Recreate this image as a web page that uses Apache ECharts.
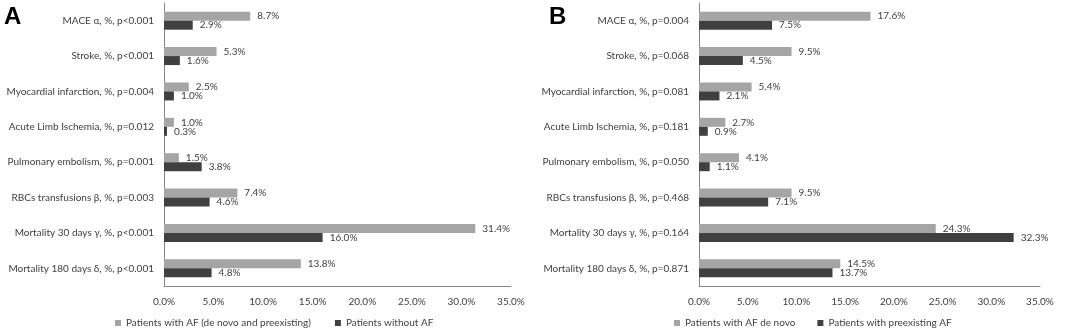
<!DOCTYPE html>
<html>
<head>
<meta charset="utf-8">
<script src="https://cdn.jsdelivr.net/npm/echarts@6/dist/echarts.min.js"></script>
<style>
  html, body { margin: 0; padding: 0; background: #fff; }
  #main { width: 1066px; height: 330px; }
</style>
</head>
<body>
<div id="main"></div>
<script>
// 数据
var catsA = ['MACE α, %, p<0.001', 'Stroke, %, p<0.001', 'Myocardial infarction, %, p=0.004',
  'Acute Limb Ischemia, %, p=0.012', 'Pulmonary embolism, %, p=0.001', 'RBCs transfusions β, %, p=0.003',
  'Mortality 30 days γ, %, p<0.001', 'Mortality 180 days δ, %, p<0.001'];
var catsB = ['MACE α, %, p=0.004', 'Stroke, %, p=0.068', 'Myocardial infarction, %, p=0.081',
  'Acute Limb Ischemia, %, p=0.181', 'Pulmonary embolism, %, p=0.050', 'RBCs transfusions β, %, p=0.468',
  'Mortality 30 days γ, %, p=0.164', 'Mortality 180 days δ, %, p=0.871'];
var afAll = [8.7, 5.3, 2.5, 1.0, 1.5, 7.4, 31.4, 13.8];
var noAf = [2.9, 1.6, 1.0, 0.3, 3.8, 4.6, 16.0, 4.8];
var afDeNovo = [17.6, 9.5, 5.4, 2.7, 4.1, 9.5, 24.3, 14.5];
var afPre = [7.5, 4.5, 2.1, 0.9, 1.1, 7.1, 32.3, 13.7];
var nameA1 = 'Patients with AF (de novo and preexisting)';
var nameA2 = 'Patients without AF';
var nameB1 = 'Patients with AF de novo';
var nameB2 = 'Patients with preexisting AF';

var FONT = 'Lato';
var FS = 10;
var TXT = '#404040';
var LIGHT = '#a5a5a5';
var DARK = '#404040';

const myChart = echarts.init(document.getElementById('main'));

function xAxisFor(idx) {
  return {
    type: 'value', gridIndex: idx, min: 0, max: 35, interval: 5,
    axisLine: { show: true, lineStyle: { color: '#868686', width: 1 } },
    axisTick: { show: false },
    splitLine: { show: false },
    axisLabel: {
      color: TXT, fontFamily: FONT, fontSize: FS, margin: 11,
      formatter: function (v) { return v.toFixed(1) + '%'; }
    }
  };
}
function yAxisFor(idx, cats) {
  return {
    type: 'category', gridIndex: idx, data: cats, inverse: true,
    axisLine: { show: true, lineStyle: { color: '#868686', width: 1 } },
    axisTick: { show: false },
    axisLabel: { color: TXT, fontFamily: FONT, fontSize: FS, margin: 10 }
  };
}
function barSeries(name, data, color, idx) {
  return {
    name: name, type: 'bar', xAxisIndex: idx, yAxisIndex: idx,
    data: data, barWidth: 9, barGap: '0%',
    itemStyle: { color: color },
    label: {
      show: true, position: 'right', distance: 7,
      color: TXT, fontFamily: FONT, fontSize: FS,
      formatter: function (p) { return p.value.toFixed(1) + '%'; }
    }
  };
}

var option = {
  animation: false,
  title: [
    { text: 'A', left: -1, top: 0, textStyle: { fontSize: 24, fontWeight: 'bold', color: '#000', fontFamily: 'Liberation Sans' } },
    { text: 'B', left: 544, top: 0, textStyle: { fontSize: 24, fontWeight: 'bold', color: '#000', fontFamily: 'Liberation Sans' } }
  ],
  grid: [
    { left: 164, top: 3, width: 347, height: 283, containLabel: false, outerBoundsMode: 'none' },
    { left: 699, top: 3, width: 341, height: 283, containLabel: false, outerBoundsMode: 'none' }
  ],
  legend: [
    {
      data: [nameA1, nameA2], left: 115, top: 318, padding: 0,
      icon: 'rect', itemWidth: 6, itemHeight: 6, itemGap: 24,
      textStyle: { color: TXT, fontFamily: FONT, fontSize: FS }
    },
    {
      data: [nameB1, nameB2], left: 674, top: 318, padding: 0,
      icon: 'rect', itemWidth: 6, itemHeight: 6, itemGap: 22,
      textStyle: { color: TXT, fontFamily: FONT, fontSize: FS }
    }
  ],
  xAxis: [xAxisFor(0), xAxisFor(1)],
  yAxis: [yAxisFor(0, catsA), yAxisFor(1, catsB)],
  series: [
    barSeries(nameA1, afAll, LIGHT, 0),
    barSeries(nameA2, noAf, DARK, 0),
    barSeries(nameB1, afDeNovo, LIGHT, 1),
    barSeries(nameB2, afPre, DARK, 1)
  ]
};
myChart.setOption(option);
</script>
</body>
</html>
